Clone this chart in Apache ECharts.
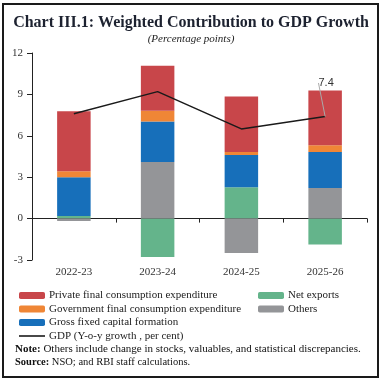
<!DOCTYPE html>
<html><head><meta charset="utf-8">
<script src="https://cdn.jsdelivr.net/npm/echarts@6/dist/echarts.min.js"></script>
<style>
html,body{margin:0;padding:0;background:#fff;}
#c{width:382px;height:381px;position:absolute;left:0;top:0;}
#frame{position:absolute;left:2px;top:3px;width:373px;height:371px;border:2px solid #1a1a1a;pointer-events:none;}
</style></head>
<body>
<div id="c"></div><div id="frame"></div>
<script>
const categories = ['2022-23', '2023-24', '2024-25', '2025-26'];
const pfce = [4.34, 3.27, 4.03, 3.97];
const gfce = [0.44, 0.78, 0.21, 0.49];
const gfcf = [2.81, 2.93, 2.33, 2.61];
const netExports = [0.19, -2.79, 2.28, -1.87];
const others = [-0.17, 4.10, -2.50, 2.21];
const gdp = [7.6, 9.2, 6.5, 7.4];
const yTicks = [-3, 0, 3, 6, 9, 12];

const FONT = '"Liberation Serif", serif';
const C = {pfce:'#C8464A', gfce:'#EF8636', gfcf:'#176FBA', nx:'#64B48B', oth:'#949598'};
const GDP_NAME = 'GDP (Y-o-y growth , per cent)';

const chart = echarts.init(document.getElementById('c'), null, {renderer:'canvas'});
const barW = '40%';
function bar(name, data, color){
  return {name, type:'bar', stack:'a', data, barWidth:barW, xAxisIndex:0, yAxisIndex:0,
    itemStyle:{color}, emphasis:{disabled:true}};
}
const legendText = {fontFamily:FONT, fontSize:11, color:'#222', padding:[0,0,0,-1]};
chart.setOption({
  animation:false,
  title:[
    {text:'Chart III.1: Weighted Contribution to GDP Growth', left:'center', top:10,
     textStyle:{fontFamily:FONT, fontWeight:'bold', fontSize:16, color:'#1d2230'}},
    {text:'(Percentage points)', left:'center', top:29,
     textStyle:{fontFamily:FONT, fontStyle:'italic', fontWeight:'normal', fontSize:11, color:'#222'}}
  ],
  grid:{left:32, right:15, top:53, bottom:121, containLabel:false},
  xAxis:[
    {type:'category', data:categories, position:'bottom',
     axisLine:{show:false, onZero:false}, axisTick:{show:false},
     axisLabel:{fontFamily:FONT, fontSize:11, color:'#333', margin:7}},
    {type:'category', data:categories, position:'bottom',
     axisLine:{show:true, onZero:true, lineStyle:{color:'#222', width:1}},
     axisTick:{show:true, length:4, inside:false, lineStyle:{color:'#222'}},
     axisLabel:{show:false}}
  ],
  yAxis:{type:'value', min:yTicks[0], max:yTicks[yTicks.length-1], interval:3,
    axisLine:{show:true, lineStyle:{color:'#222'}},
    axisTick:{show:true, length:5, lineStyle:{color:'#222'}},
    splitLine:{show:false},
    axisLabel:{fontFamily:FONT, fontSize:11, color:'#333', margin:9}},
  legend:[
    {orient:'vertical', left:19, top:290, padding:0, itemWidth:26, itemHeight:7, itemGap:2.5,
     data:['Private final consumption expenditure','Government final consumption expenditure','Gross fixed capital formation',
       {name:GDP_NAME, icon:'path://M0,0 L26,0 L26,1.6 L0,1.6 Z'}],
     textStyle:legendText},
    {orient:'vertical', left:258, top:290, padding:0, itemWidth:26, itemHeight:7, itemGap:2.5,
     data:['Net exports','Others'],
     textStyle:legendText}
  ],
  series:[
    bar('Net exports', netExports, C.nx),
    bar('Others', others, C.oth),
    bar('Gross fixed capital formation', gfcf, C.gfcf),
    bar('Government final consumption expenditure', gfce, C.gfce),
    bar('Private final consumption expenditure', pfce, C.pfce),
    {name:GDP_NAME, type:'line', xAxisIndex:0, yAxisIndex:0,
     symbol:'circle', symbolSize:0, showSymbol:true, lineStyle:{color:'#1a1a1a', width:1.5}, itemStyle:{color:'#1a1a1a'},
     emphasis:{disabled:true}, z:5,
     data: gdp.map((v,i)=>({value:v, label:{show:i===gdp.length-1}})),
     label:{position:'top', distance:0, fontFamily:'"Liberation Sans", sans-serif', fontSize:11, color:'#333', formatter:p=>p.value.toFixed(1)},
     labelLayout:{dy:-28, dx:1},
     labelLine:{show:true, lineStyle:{color:'#aaa', width:1}}}
  ],
  graphic:[
    {type:'text', left:15, top:344, style:{text:'{b|Note:} Others include change in stocks, valuables, and statistical discrepancies.',
      rich:{b:{fontWeight:'bold', fontFamily:FONT, fontSize:11, fill:'#111'}},
      font:'11px "Liberation Serif", serif', fill:'#111'}},
    {type:'text', left:15, top:357, style:{text:'{b|Source:} NSO; and RBI staff calculations.',
      rich:{b:{fontWeight:'bold', fontFamily:FONT, fontSize:10.5, fill:'#111'}},
      font:'10.5px "Liberation Serif", serif', fill:'#111'}}
  ]
});
</script>
</body></html>
